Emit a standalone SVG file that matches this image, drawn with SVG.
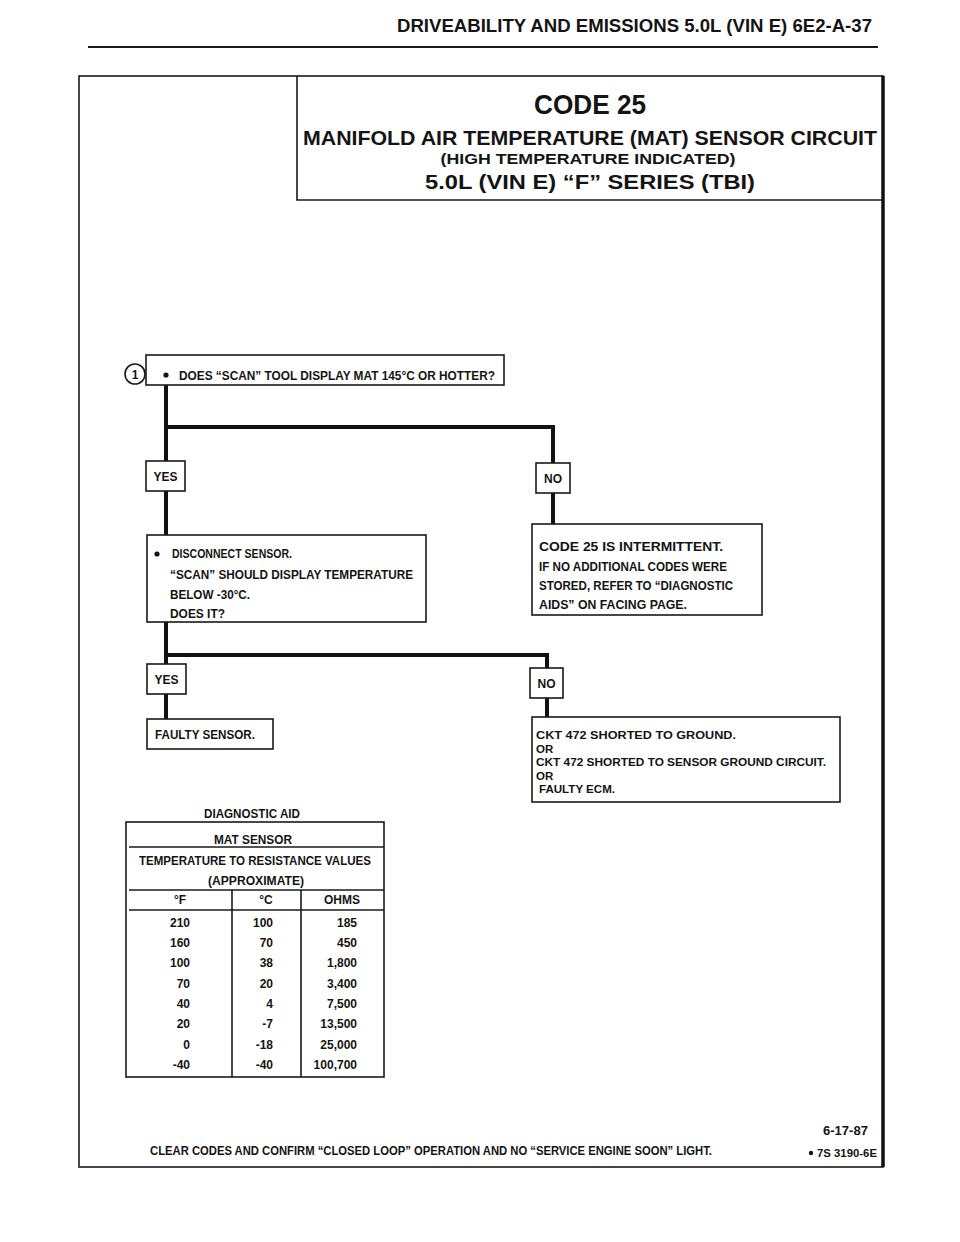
<svg xmlns="http://www.w3.org/2000/svg" width="960" height="1242" viewBox="0 0 960 1242">
<style>
.t{font-family:"Liberation Sans","Open Sans",Arial,sans-serif;font-weight:700;fill:#141414}
.box{fill:#fff;stroke:#1a1a1a;stroke-width:1.6}
.thin{fill:none;stroke:#1a1a1a;stroke-width:1.6}
.flow{fill:none;stroke:#111;stroke-width:4}
.c{text-anchor:middle}
.r{text-anchor:end}
</style>
<rect width="960" height="1242" fill="#fff"/>
<g id="page-header">
<text class="t" x="397" y="32" font-size="19" textLength="475" lengthAdjust="spacingAndGlyphs">DRIVEABILITY AND EMISSIONS  5.0L  (VIN E)  6E2-A-37</text>
<line x1="88" y1="47" x2="878" y2="47" stroke="#1a1a1a" stroke-width="2"/>
</g>
<g id="frame">
<rect x="79" y="76" width="804" height="1091" class="thin" stroke-width="2.4"/>
<line x1="883" y1="76" x2="883" y2="1167" stroke="#111" stroke-width="3.5"/>
</g>
<g id="title">
<polyline points="297,76 297,200 884,200" class="thin"/>
<text class="t c" x="590" y="114" font-size="27" textLength="112" lengthAdjust="spacingAndGlyphs">CODE 25</text>
<text class="t" x="303" y="145" font-size="20" textLength="574" lengthAdjust="spacingAndGlyphs">MANIFOLD AIR TEMPERATURE (MAT) SENSOR CIRCUIT</text>
<text class="t c" x="588" y="164" font-size="15.5" textLength="295" lengthAdjust="spacingAndGlyphs">(HIGH TEMPERATURE INDICATED)</text>
<text class="t c" x="590" y="189" font-size="21" textLength="330" lengthAdjust="spacingAndGlyphs">5.0L (VIN E)  “F” SERIES  (TBI)</text>
</g>
<g id="connectors">
<polyline class="flow" points="166,385 166,535"/>
<polyline class="flow" points="166,427 553,427 553,524"/>
<polyline class="flow" points="166,622 166,719"/>
<polyline class="flow" points="166,655 547,655 547,717"/>
</g>
<g id="step1">
<circle cx="135" cy="374" r="10" fill="#fff" stroke="#1a1a1a" stroke-width="1.6"/>
<text class="t c" x="135" y="378.5" font-size="12">1</text>
<rect class="box" x="146" y="355" width="358" height="30"/>
<circle cx="166" cy="375" r="2.6" fill="#141414"/>
<text class="t" x="179" y="380" font-size="12.5" textLength="316" lengthAdjust="spacingAndGlyphs">DOES “SCAN” TOOL DISPLAY MAT 145°C OR HOTTER?</text>
</g>
<g id="yes1">
<rect class="box" x="146" y="461" width="39" height="30"/>
<text class="t c" x="165.5" y="481" font-size="12">YES</text>
</g>
<g id="no1">
<rect class="box" x="536" y="463" width="34" height="30"/>
<text class="t c" x="553" y="483" font-size="12">NO</text>
</g>
<g id="intermittent">
<rect class="box" x="532" y="524" width="230" height="91"/>
<text class="t" x="539" y="551" font-size="12" textLength="184" lengthAdjust="spacingAndGlyphs">CODE 25 IS INTERMITTENT.</text>
<text class="t" x="539" y="571" font-size="12" textLength="188" lengthAdjust="spacingAndGlyphs">IF NO ADDITIONAL CODES WERE</text>
<text class="t" x="539" y="590" font-size="12" textLength="194" lengthAdjust="spacingAndGlyphs">STORED, REFER TO  “DIAGNOSTIC</text>
<text class="t" x="539" y="609" font-size="12" textLength="148" lengthAdjust="spacingAndGlyphs">AIDS” ON FACING PAGE.</text>
</g>
<g id="step2">
<rect class="box" x="147" y="535" width="279" height="87"/>
<circle cx="157" cy="554" r="2.6" fill="#141414"/>
<text class="t" x="172" y="558" font-size="12" textLength="120" lengthAdjust="spacingAndGlyphs">DISCONNECT SENSOR.</text>
<text class="t" x="170" y="579" font-size="12" textLength="243" lengthAdjust="spacingAndGlyphs">“SCAN” SHOULD DISPLAY TEMPERATURE</text>
<text class="t" x="170" y="599" font-size="12" textLength="80" lengthAdjust="spacingAndGlyphs">BELOW -30°C.</text>
<text class="t" x="170" y="618" font-size="12" textLength="55" lengthAdjust="spacingAndGlyphs">DOES IT?</text>
</g>
<g id="yes2">
<rect class="box" x="147" y="664" width="39" height="30"/>
<text class="t c" x="166.5" y="684" font-size="12">YES</text>
</g>
<g id="faulty-sensor">
<rect class="box" x="147" y="719" width="126" height="30"/>
<text class="t" x="155" y="739" font-size="12" textLength="100" lengthAdjust="spacingAndGlyphs">FAULTY SENSOR.</text>
</g>
<g id="no2">
<rect class="box" x="530" y="668" width="33" height="30"/>
<text class="t c" x="546.5" y="688" font-size="12">NO</text>
</g>
<g id="ckt472">
<rect class="box" x="532" y="717" width="308" height="85"/>
<text class="t" x="536" y="739" font-size="11.5" textLength="200" lengthAdjust="spacingAndGlyphs">CKT 472  SHORTED TO GROUND.</text>
<text class="t" x="536" y="752.5" font-size="11.5">OR</text>
<text class="t" x="536" y="766" font-size="11.5" textLength="290" lengthAdjust="spacingAndGlyphs">CKT 472 SHORTED TO SENSOR GROUND CIRCUIT.</text>
<text class="t" x="536" y="779.5" font-size="11.5">OR</text>
<text class="t" x="539" y="793" font-size="11.5" textLength="76" lengthAdjust="spacingAndGlyphs">FAULTY ECM.</text>
</g>
<g id="diagnostic-aid">
<text class="t c" x="252" y="818" font-size="12.5" textLength="96" lengthAdjust="spacingAndGlyphs">DIAGNOSTIC AID</text>
<rect class="thin" x="126" y="822" width="258" height="255"/>
<line class="thin" x1="129" y1="847" x2="384" y2="847"/>
<line class="thin" x1="129" y1="890" x2="384" y2="890"/>
<line class="thin" x1="129" y1="910" x2="384" y2="910" stroke-width="2"/>
<line class="thin" x1="232" y1="890" x2="232" y2="1077"/>
<line class="thin" x1="301" y1="890" x2="301" y2="1077"/>
<text class="t c" x="253" y="844" font-size="12" textLength="78" lengthAdjust="spacingAndGlyphs">MAT SENSOR</text>
<text class="t c" x="255" y="865" font-size="12" textLength="232" lengthAdjust="spacingAndGlyphs">TEMPERATURE TO RESISTANCE VALUES</text>
<text class="t c" x="256" y="885" font-size="12" textLength="96" lengthAdjust="spacingAndGlyphs">(APPROXIMATE)</text>
<text class="t c" x="180" y="904" font-size="12">°F</text>
<text class="t c" x="266" y="904" font-size="12">°C</text>
<text class="t c" x="342" y="904" font-size="12">OHMS</text>
<g font-size="12">
<text class="t r" x="190" y="927">210</text><text class="t r" x="273" y="927">100</text><text class="t r" x="357" y="927">185</text>
<text class="t r" x="190" y="947">160</text><text class="t r" x="273" y="947">70</text><text class="t r" x="357" y="947">450</text>
<text class="t r" x="190" y="967">100</text><text class="t r" x="273" y="967">38</text><text class="t r" x="357" y="967">1,800</text>
<text class="t r" x="190" y="988">70</text><text class="t r" x="273" y="988">20</text><text class="t r" x="357" y="988">3,400</text>
<text class="t r" x="190" y="1008">40</text><text class="t r" x="273" y="1008">4</text><text class="t r" x="357" y="1008">7,500</text>
<text class="t r" x="190" y="1028">20</text><text class="t r" x="273" y="1028">-7</text><text class="t r" x="357" y="1028">13,500</text>
<text class="t r" x="190" y="1049">0</text><text class="t r" x="273" y="1049">-18</text><text class="t r" x="357" y="1049">25,000</text>
<text class="t r" x="190" y="1069">-40</text><text class="t r" x="273" y="1069">-40</text><text class="t r" x="357" y="1069">100,700</text>
</g>
</g>
<g id="footer">
<text class="t" x="150" y="1155" font-size="12.5" textLength="562" lengthAdjust="spacingAndGlyphs">CLEAR CODES AND CONFIRM “CLOSED LOOP”  OPERATION AND NO “SERVICE ENGINE SOON” LIGHT.</text>
<text class="t r" x="868" y="1135" font-size="12" textLength="45" lengthAdjust="spacingAndGlyphs">6-17-87</text>
<text class="t r" x="877" y="1157" font-size="11.5" textLength="60" lengthAdjust="spacingAndGlyphs">7S 3190-6E</text>
<circle cx="811" cy="1153" r="2.2" fill="#141414"/>
</g>
</svg>
